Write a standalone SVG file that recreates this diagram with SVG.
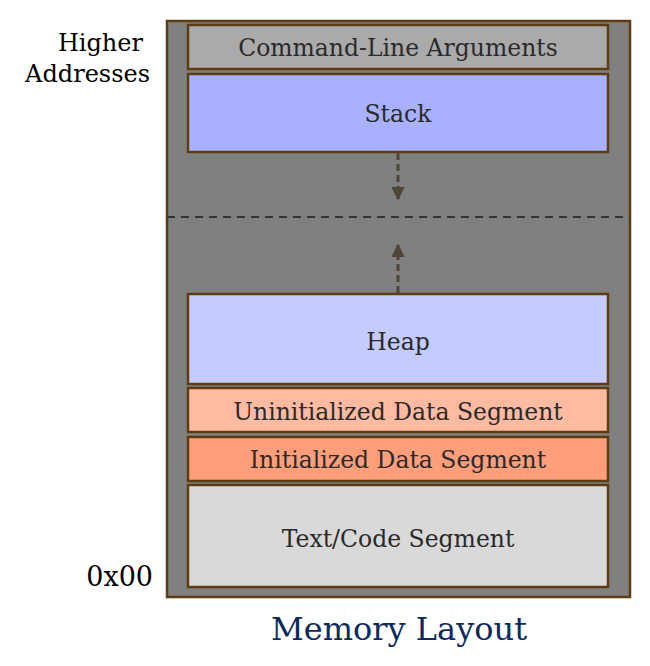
<svg xmlns="http://www.w3.org/2000/svg" width="650" height="666" viewBox="0 0 650 666">
<defs>
<style>
.seg{stroke:#5c3c12;stroke-width:2.5}
.lbl{font-family:"DejaVu Serif","Liberation Serif",serif;font-size:23.5px;fill:#2a2a2a;text-anchor:middle}
.side{font-family:"DejaVu Serif","Liberation Serif",serif;font-size:24px;fill:#000;text-anchor:end}
.conn{stroke:#4d4535;stroke-width:3;stroke-dasharray:7,4;fill:none}
</style>
<marker id="ah" viewBox="0 0 10 10" refX="9" refY="5" markerWidth="4.5" markerHeight="4.5" orient="auto" markerUnits="strokeWidth">
<path d="M0,0 L10,5 L0,10 z" fill="#4d4535"/>
</marker>
</defs>
<rect x="0" y="0" width="650" height="666" fill="#fff"/>
<g id="memory">
<rect x="167" y="21" width="463" height="576" fill="#808080" class="seg"/>
</g>
<g id="args">
<rect x="188" y="25" width="420" height="44" fill="#aaaaaa" class="seg"/>
<text x="398" y="56" class="lbl">Command-Line Arguments</text>
</g>
<g id="stack">
<rect x="188" y="74" width="420" height="78" fill="#a9b1fe" class="seg"/>
<text x="398" y="122" class="lbl">Stack</text>
</g>
<g id="heap">
<rect x="188" y="294" width="420" height="90" fill="#c6cbff" class="seg"/>
<text x="398" y="350" class="lbl">Heap</text>
</g>
<g id="bss">
<rect x="188" y="388" width="420" height="44" fill="#ffbba2" class="seg"/>
<text x="398" y="420" class="lbl">Uninitialized Data Segment</text>
</g>
<g id="data">
<rect x="188" y="437" width="420" height="44" fill="#ff9e7a" class="seg"/>
<text x="398" y="468" class="lbl">Initialized Data Segment</text>
</g>
<g id="text">
<rect x="188" y="485" width="420" height="102" fill="#d9d9d9" class="seg"/>
<text x="398" y="547" class="lbl">Text/Code Segment</text>
</g>
<g id="connectors">
<line x1="167" y1="217" x2="630" y2="217" stroke="#333" stroke-width="2" stroke-dasharray="8,6"/>
<line x1="398" y1="153" x2="398" y2="199" class="conn" marker-end="url(#ah)"/>
<line x1="398" y1="293" x2="398" y2="245" class="conn" marker-end="url(#ah)"/>
</g>
<g id="labels">
<text x="143" y="51" class="side">Higher</text>
<text x="150" y="82" class="side">Addresses</text>
<text x="153" y="586" class="side" style="font-size:27px">0x00</text>
<text x="399" y="640" font-family="'DejaVu Serif','Liberation Serif',serif" font-size="32" fill="#0d2a5e" text-anchor="middle">Memory Layout</text>
</g>
</svg>
